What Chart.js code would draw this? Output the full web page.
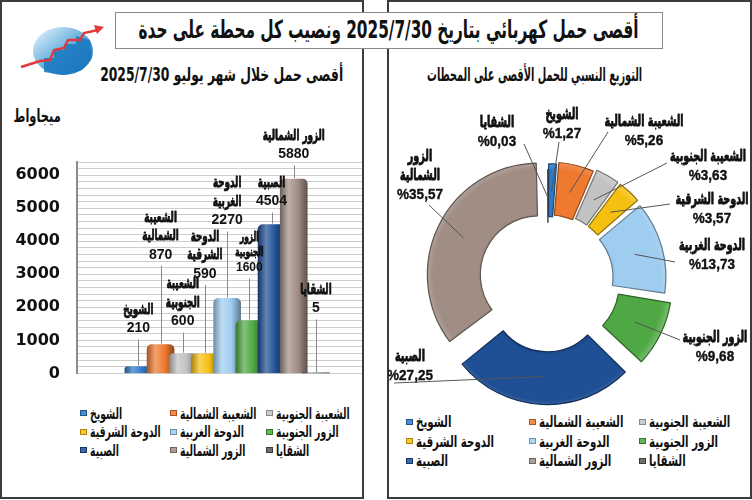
<!DOCTYPE html>
<html lang="ar">
<head>
<meta charset="utf-8">
<script src="https://cdn.jsdelivr.net/npm/chart.js@4.4.1/dist/chart.umd.min.js"></script>
<style>
  html, body { margin: 0; padding: 0; background: #fff; }
  #page { position: relative; width: 752px; height: 500px; overflow: hidden;
    font-family: "DejaVu Sans", sans-serif; font-weight: bold; color: #111; }
  .panel { position: absolute; top: 0; height: 499px; border: 2px solid #3c3c3c; box-sizing: border-box; }
  #title { position: absolute; left: 115px; top: 12px; width: 548px; height: 37px; box-sizing: border-box;
    border: 1.5px solid #8a8a8a; background: #fff; text-align: center; line-height: 33px; font-size: 25px; white-space: nowrap; }
  .sub { position: absolute; top: 63px; font-size: 19px; white-space: nowrap; text-align: center; }
  #unit { position: absolute; left: 12px; top: 105px; width: 50px; text-align: center; font-size: 18px; white-space: nowrap; }
  .fit { display: inline-block; transform-origin: center center; }
  canvas { position: absolute; }
  .legend { position: absolute; display: grid; direction: ltr; }
  .legend .item { display: flex; align-items: center; white-space: nowrap; font-size: 16px; }
  .legend .mark { flex: none; width: 7px; height: 6px; margin-right: 3px; box-sizing: border-box; border: 1px solid; }
  .legend .txt { display: inline-block; transform-origin: left center; }
  #legBars .txt { transform: scaleX(0.58); }
  #legDonut .txt { transform: scaleX(0.64); }
</style>
</head>
<body>
<div id="page">
  <div class="panel" style="left:0; width:364px;"></div>
  <div class="panel" style="left:387px; width:365px;"></div>

  <svg style="position:absolute; left:10px; top:15px;" width="100" height="70" viewBox="10 15 100 70">
    <defs>
      <linearGradient id="lg" x1="0" y1="0" x2="1" y2="1">
        <stop offset="0" stop-color="#eef7fd"/>
        <stop offset="0.55" stop-color="#5aa9dc"/>
        <stop offset="1" stop-color="#1467ad"/>
      </linearGradient>
    </defs>
    <ellipse cx="63" cy="51" rx="30" ry="24" fill="url(#lg)"/>
    <path d="M44 72 L44 58 L54 58 L54 50 L64 50 L64 44 L76 44 L76 36 L90 40 L92 58 L82 70 L64 75 Z" fill="#1b78bf" opacity="0.85"/>
    <polyline points="21,67 40,61 50,60 54,50 64,48 68,40 80,40 84,33 98,30" stroke="#e0393e" stroke-width="2.5" fill="none"/>
    <polygon points="104,27 94,25 97,34" fill="#e0393e"/>
  </svg>

  <div id="title" dir="rtl"><span class="fit" data-w="500">أقصى حمل كهربائي بتاريخ 2025/7/30 ونصيب كل محطة على حدة</span></div>
  <div class="sub" dir="rtl" style="left:100px; width:244px;"><span class="fit" data-w="243">أقصى حمل خلال شهر يوليو 2025/7/30</span></div>
  <div class="sub" dir="rtl" style="left:420px; width:230px;"><span class="fit" data-w="215">التوزيع النسبي للحمل الأقصى على المحطات</span></div>
  <div id="unit" dir="rtl"><span class="fit" data-w="47">ميجاواط</span></div>

  <canvas id="bars" width="362" height="310" style="left:0; top:90px;"></canvas>
  <canvas id="donut" width="362" height="320" style="left:388px; top:90px;"></canvas>

  <div class="legend" id="legBars" style="left:80px; top:404px; grid-template-columns: 90px 96px 90px; grid-auto-rows: 18.5px;"></div>
  <div class="legend" id="legDonut" style="left:406px; top:412px; grid-template-columns: 123px 110px 110px; grid-auto-rows: 19.5px;"></div>
</div>

<script>
// stations in chart order
const stations = ['الشويخ', 'الشعيبة الشمالية', 'الشعيبة الجنوبية', 'الدوحة الشرقية',
  'الدوحة الغربية', 'الزور الجنوبية', 'الصبية', 'الزور الشمالية', 'الشقايا'];
// peak load, MW
const peakMW = [210, 870, 600, 590, 2270, 1600, 4504, 5880, 5];
// share of total peak, %
const sharePct = [1.27, 5.26, 3.63, 3.57, 13.73, 9.68, 27.25, 35.57, 0.03];
// labelled y ticks
const yTicks = [0, 1000, 2000, 3000, 4000, 5000, 6000];

// label line breaks
const barNameLines = [['الشويخ'], ['الشعيبة', 'الشمالية'], ['الشعيبة', 'الجنوبية'], ['الدوحة', 'الشرقية'],
  ['الدوحة', 'الغربية'], ['الزور', 'الجنوبية'], ['الصبية'], ['الزور الشمالية'], ['الشقايا']];
const pieNameLines = [['الشويخ'], ['الشعيبة الشمالية'], ['الشعيبة الجنوبية'], ['الدوحة الشرقية'],
  ['الدوحة الغربية'], ['الزور الجنوبية'], ['الصبية'], ['الزور', 'الشمالية'], ['الشقايا']];

const colors = ['#2e78c6', '#ee7a30', '#c2c2c2', '#f5c010', '#9fcdf0', '#4ea843', '#1f4f94', '#a08e84', '#555555'];

// layout bits (px): label lift above bar top, slice pull-out, donut label spots rel. to centre
const barLabelLift = [38, 90, 32, 80, 78, 53, 23, 25, 65];
const pieOffset = [12, 18, 22, 22, 28, 44, 64, 40, 0];
const pieLabelAt = [ // [textX, firstLineY, leaderX, leaderY]
  [14, -164, 11, -137], [96, -157, 60, -147], [160, -122, 119, -116], [164, -79, 122, -75],
  [164, -33, 127, -17], [167, 59, 132, 61], [-138, 78, -154, 104], [-128, -122, -119, -74],
  [-51, -156, -24, -135]];

function shade(hex, t) {
  const n = parseInt(hex.slice(1), 16);
  const m = t < 0 ? 0 : 255, k = Math.abs(t);
  const c = [n >> 16, (n >> 8) & 255, n & 255].map(v => Math.round(v + (m - v) * k));
  return `rgb(${c[0]},${c[1]},${c[2]})`;
}

// the print font is a narrow heavy one; squeeze DejaVu and thicken it a bit
function narrowText(ctx, text, x, y, k, heavy) {
  ctx.save();
  ctx.translate(x, y);
  ctx.scale(k, 1);
  if (heavy) {
    ctx.lineWidth = heavy;
    ctx.lineJoin = 'round';
    ctx.strokeStyle = ctx.fillStyle;
    ctx.strokeText(text, 0, 0);
  }
  ctx.fillText(text, 0, 0);
  ctx.restore();
}

const arabicFont = '"DejaVu Sans", sans-serif';
const numFont = '"Liberation Sans", Arial, sans-serif';

// ---------- bar chart ----------
const barLabels = {
  id: 'barLabels',
  afterDatasetsDraw(chart) {
    const { ctx } = chart;
    chart.getDatasetMeta(0).data.forEach((bar, i) => {
      const x = bar.x, top = bar.y;
      const small = i === 5;
      const lh = small ? 15 : 18.5;
      const valueY = top - barLabelLift[i];
      const lines = barNameLines[i];
      ctx.save();
      ctx.fillStyle = '#111';
      ctx.textAlign = 'center';
      ctx.textBaseline = 'middle';
      ctx.font = `bold ${small ? 12.5 : 15}px ${arabicFont}`;
      lines.forEach((t, k) => narrowText(ctx, t, x, valueY - (lines.length - k) * lh, 0.585, 0.9));
      ctx.font = `bold ${small ? 12 : 14}px ${numFont}`;
      ctx.fillText(String(peakMW[i]), x, valueY);
      ctx.strokeStyle = '#8a8a8a';
      ctx.lineWidth = 1;
      ctx.beginPath();
      ctx.moveTo(Math.round(x) + 0.5, valueY + 11);
      ctx.lineTo(Math.round(x) + 0.5, top - 1);
      ctx.stroke();
      ctx.restore();
    });
  }
};

new Chart(document.getElementById('bars'), {
  type: 'bar',
  data: {
    datasets: [{
      data: peakMW.map((v, i) => ({ x: i, y: v })),
      barThickness: 27,
      borderRadius: { topLeft: 5, topRight: 5, bottomLeft: 0, bottomRight: 0 },
      borderSkipped: 'start',
      backgroundColor: (c) => {
        const base = colors[c.dataIndex || 0];
        const chart = c.chart;
        if (!chart.chartArea || c.type !== 'data') return base;
        const cx = chart.scales.x.getPixelForValue(c.dataIndex);
        const g = chart.ctx.createLinearGradient(cx - 13.5, 0, cx + 13.5, 0);
        g.addColorStop(0, shade(base, -0.3));
        g.addColorStop(0.3, shade(base, 0.3));
        g.addColorStop(0.65, base);
        g.addColorStop(1, shade(base, -0.4));
        return g;
      }
    }]
  },
  options: {
    responsive: false,
    animation: false,
    layout: { padding: { top: 72, bottom: 7, left: 0, right: 0 } },
    plugins: { legend: { display: false }, tooltip: { enabled: false } },
    scales: {
      x: { type: 'linear', min: -1.48, max: 8.79, display: false },
      y: {
        min: 0, max: 6400,
        afterFit: (s) => { s.width = 77; },
        ticks: {
          stepSize: 200, autoSkip: false, maxTicksLimit: 100, padding: 17,
          callback: (v) => (yTicks.includes(v) ? String(v) : ''),
          color: '#111',
          font: { family: '"DejaVu Sans", sans-serif', weight: 'bold', size: 16 }
        },
        grid: { color: '#cdcdcd', lineWidth: 1, drawTicks: false },
        border: { display: true, color: '#8c8c8c', width: 2 }
      }
    }
  },
  plugins: [barLabels]
});

// ---------- doughnut ----------
const pieLabels = {
  id: 'pieLabels',
  afterDatasetsDraw(chart) {
    const { ctx } = chart;
    chart.getDatasetMeta(0).data.forEach((arc, i) => {
      const p = arc.getProps(['x', 'y', 'startAngle', 'endAngle', 'innerRadius', 'outerRadius', 'circumference']);
      const a = (p.startAngle + p.endAngle) / 2;
      const off = (arc.options.offset || 0) / 4;
      const fix = 1 - Math.sin(Math.min(Math.PI, p.circumference || 0));
      const r = (p.innerRadius + p.outerRadius) / 2 + off * (1 + fix);
      const ex = p.x + Math.cos(a) * r, ey = p.y + Math.sin(a) * r;
      const [tx, ty, sx, sy] = pieLabelAt[i];
      const lines = pieNameLines[i].concat(['%' + sharePct[i].toFixed(2).replace('.', ',')]);
      ctx.save();
      ctx.strokeStyle = '#555';
      ctx.lineWidth = 1;
      ctx.beginPath();
      ctx.moveTo(p.x + sx, p.y + sy);
      ctx.lineTo(ex, ey);
      ctx.stroke();
      ctx.fillStyle = '#111';
      ctx.textAlign = 'center';
      ctx.textBaseline = 'middle';
      lines.forEach((t, k) => {
        const isVal = k === lines.length - 1;
        ctx.font = isVal ? `bold 15px ${numFont}` : `bold 16px ${arabicFont}`;
        narrowText(ctx, t, p.x + tx, p.y + ty + k * 19, isVal ? 0.9 : 0.6, isVal ? 0.4 : 0.9);
      });
      ctx.restore();
    });
  }
};

new Chart(document.getElementById('donut'), {
  type: 'doughnut',
  data: {
    labels: stations,
    datasets: [{
      data: sharePct,
      radius: 108,
      cutout: '51%',
      spacing: 3,
      offset: pieOffset,
      borderWidth: 1.2,
      borderColor: colors.map(c => shade(c, -0.4)),
      backgroundColor: (c) => {
        const base = colors[c.dataIndex || 0];
        const area = c.chart.chartArea;
        if (!area || c.type !== 'data') return base;
        const cx = (area.left + area.right) / 2, cy = (area.top + area.bottom) / 2;
        const g = c.chart.ctx.createRadialGradient(cx, cy, 50, cx, cy, 124);
        g.addColorStop(0, shade(base, -0.2));
        g.addColorStop(0.15, base);
        g.addColorStop(0.75, base);
        g.addColorStop(0.88, shade(base, 0.25));
        g.addColorStop(1, shade(base, -0.3));
        return g;
      }
    }]
  },
  options: {
    responsive: false,
    animation: false,
    layout: { padding: { left: 0, right: 42, top: 58, bottom: 0 } },
    plugins: { legend: { display: false }, tooltip: { enabled: false } }
  },
  plugins: [pieLabels]
});

// ---------- legends ----------
function buildLegend(id) {
  const box = document.getElementById(id);
  stations.forEach((name, i) => {
    const item = document.createElement('div');
    item.className = 'item';
    const mark = document.createElement('span');
    mark.className = 'mark';
    mark.style.background = shade(colors[i], 0.15);
    mark.style.borderColor = shade(colors[i], -0.3);
    const txt = document.createElement('span');
    txt.className = 'txt';
    txt.dir = 'rtl';
    txt.textContent = name;
    item.append(mark, txt);
    box.append(item);
  });
}
buildLegend('legBars');
buildLegend('legDonut');

// squeeze headings to the widths they take in the print, keep them centred
document.querySelectorAll('.fit').forEach(el => {
  const w = el.offsetWidth, target = Number(el.dataset.w);
  const k = Math.min(1, target / w);
  const m = (target - w) / 2;
  el.style.transform = `scaleX(${k.toFixed(3)})`;
  el.style.marginLeft = m + 'px';
  el.style.marginRight = m + 'px';
});
</script>
</body>
</html>
